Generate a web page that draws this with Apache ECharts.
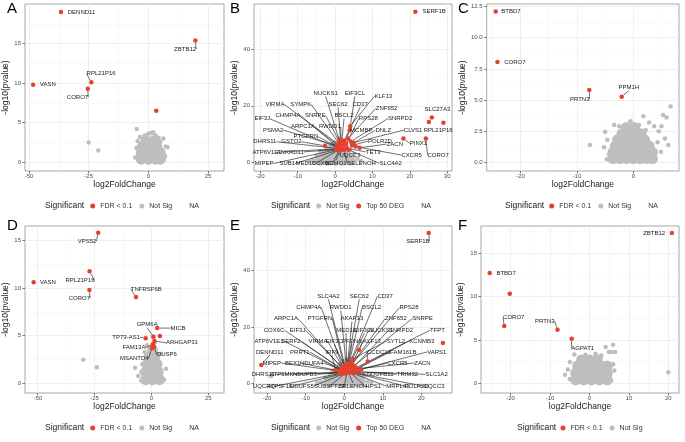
<!DOCTYPE html>
<html><head><meta charset="utf-8">
<script src="https://cdn.jsdelivr.net/npm/echarts@6.0.0/dist/echarts.min.js"></script>
<style>html,body{margin:0;padding:0;background:#fff}#c{width:685px;height:442px}</style>
</head><body><div id="c"></div>
<script>
// ---------------- DATA ----------------
// significant genes: [name, log2FoldChange, -log10(pvalue)]
const A_sig = [["DENND11",-36.6,19.0],["ZBTB12",19.7,15.4],["RPL21P16",-23.9,10.1],["CORO7",-25.4,9.3],["VASN",-48.3,9.8],["",3.3,6.5]];
const A_ns = [[-25.0,2.5],[-21.0,1.5],[-4.9,4.2],[1.3,3.7],[4.3,3.1],[6.3,3.0],[7.2,2.0],[8.0,1.9],[6.0,1.2],[-5.0,1.8],[-5.5,0.6],[-4.5,2.7],[3.0,3.4],[-1.5,3.4],[6.5,0.4],[0.0,3.6],[2.0,3.8],[-3.5,3.2],[5.0,2.6],[-4.0,0.2],[7.0,0.8]];
const A_nsDense = [[-3,0.4],[0,0.4],[3,0.4],[5,0.4],[-3,1.2],[0,1.2],[3,1.2],[5,1.2],[-2.5,2.0],[0.5,2.0],[3.5,2.0],[-1,2.7],[2,2.7]];

const B_sig = [["SERF1B",21.5,53.2],["SLC27A3",25.9,15.9],["",25.1,14.3],["RPL21P16",29.0,14.0],["CORO7",24.3,8.5],["PINX1",18.3,8.5],
 ["CLVS1",5.0,7.0],["NUCKS1",1.2,7.5],["EIF3CL",3.9,11.4],["KLF13",4.05,12.8],["VIRMA",0.8,6.0],["SYMPK",1.0,6.8],["SEC62",1.45,8.1],
 ["CD37",2.5,7.8],["ZNF652",3.5,8.5],["CHMP4A",0.6,5.5],["SNRPE",1.3,7.0],["BSCL2",1.8,7.2],["RPS28",3.0,6.5],["SNRPD2",4.2,7.4],
 ["EIF3J",0.5,5.2],["PSMA2",0.9,5.8],["ARPC1A",1.1,6.2],["RWDD1",1.6,6.6],["MCMBP",2.2,6.0],["DNLZ",4.8,6.8],["PTGFRN",0.7,5.4],
 ["DHRS11",0.5,5.0],["GSTO2",-2.7,5.9],["POLR2D",4.5,6.0],["ZACN",6.6,5.2],["ATP6V1E1",0.4,4.8],["ANKRD11",0.6,4.6],["TET3",3.2,5.0],
 ["UQCC3",2.0,4.8],["CXCR5",5.5,5.6],["MIPEP",0.3,4.5],["SUB1",0.7,4.3],["MED16",0.9,4.4],["COX6C",1.2,4.6],["BCMO1",1.5,4.7],
 ["SELENOH",2.4,4.4],["SLC4A2",3.6,4.5]];
const B_ns = [[-6,1.0],[6,1.2],[-5,2.5],[5,3.0],[2.5,6.0],[-2,5.0],[7,0.5],[-7,0.3],[-4,4],[4,4.5],[0,7],[1,8.5]];
const B_nsDense = [[-4,0.8],[-2,0.8],[0,0.8],[2,0.8],[4,0.8],[-3,2.5],[-1,2.5],[1,2.5],[3,2.5],[-1.5,4.2],[0.5,4.2],[2.5,4.2],[0,5.8],[1.5,5.8]];

const C_sig = [["BTBD7",-24.4,12.1],["CORO7",-24.1,8.06],["PRTN3",-7.8,5.81],["PPM1H",-2.06,5.27]];
const C_ns = [[6.6,4.47],[5.3,3.8],[5.9,3.6],[1.8,3.7],[3.7,2.9],[-7.7,1.39],[-5.0,2.46],[-4.7,0.24],[-3.4,3.0],[6.2,1.39],[4.9,0.85],[5.6,1.9],[4.3,1.6],[-5.2,1.2],[-4.6,1.8],[2.8,3.2],[-0.5,3.3],[1.0,3.0],[4.5,2.5],[-2.5,2.9],[3.5,0.3],[-4.3,0.6],[5.0,2.9],[2.2,2.6]];
const C_nsDense = [[-3.6,0.3],[-2.4,0.3],[-1.2,0.3],[0,0.3],[1.2,0.3],[2.4,0.3],[3.4,0.3],
 [-3.6,0.8],[-2.4,0.8],[-1.2,0.8],[0,0.8],[1.2,0.8],[2.4,0.8],[3.4,0.8],
 [-3.2,1.3],[-2.0,1.3],[-0.8,1.3],[0.4,1.3],[1.6,1.3],[2.8,1.3],
 [-2.8,1.8],[-1.6,1.8],[-0.4,1.8],[0.8,1.8],[2.0,1.8],
 [-2.0,2.3],[-0.8,2.3],[0.4,2.3],[1.4,2.3],[-1.2,2.8],[0.2,2.8]];

const D_sig = [["VPS52",-23.4,15.8],["VASN",-51.8,10.6],["RPL21P16",-27.2,11.75],["CORO7",-27.3,9.8],["TNFRSF6B",-6.8,9.06],["MICB",2.55,5.8],
 ["",3.7,4.96],["TP73-AS1",-2.55,4.75],["GPM6A",0.9,4.9],["ARHGAP31",1.3,4.45],["FAM13A",0.6,4.1],["DUSP6",1.1,3.85],["MSANTD4",0.2,3.7]];
const D_ns = [[-30.0,2.48],[-24.0,1.7],[-7.25,1.64],[-5.8,0.77],[6.4,1.53],[5.5,0.4],[-4.5,0.3],[-4.0,2.0],[4.0,3.1],[-2.0,4.0],[1.5,4.3],[0.5,4.9],[-3.0,3.3],[3.0,1.0],[-4.5,1.2]];
const D_nsDense = [[-2.5,0.4],[0.5,0.4],[3.5,0.4],[-2.5,1.2],[0.5,1.2],[3.0,1.2],[-2.0,2.0],[1.0,2.0],[2.5,2.0],[-1.0,2.8],[1.5,2.8],[0.5,3.5]];

const E_sig = [["SERF1B",21.9,53.2],["DENND11",-21.5,6.6],["",25.6,14.4],["KLF13",3.8,11.9],["SYTL2",2.2,8.7],["CCDC12",6.1,7.8],["IRF9",-2.3,4.8],
 ["SLC4A2",0.2,6.2],["SEC62",0.9,7.0],["CD37",1.5,7.4],["CHMP4A",-0.4,5.8],["RWDD1",0.5,6.6],["BSCL2",1.2,6.8],["RPS28",2.0,6.9],
 ["ARPC1A",-0.6,5.5],["PTGFRN",0.0,6.0],["AKAP13",0.8,6.4],["ZNF652",1.8,6.5],["SNRPE",2.6,6.3],["COX6C",-0.8,5.2],["EIF3J",-0.3,5.4],
 ["MED16",0.6,5.9],["EIF3CL",1.3,6.1],["NUCKS1",1.6,5.9],["SNRPD2",2.4,5.8],["TFPT",3.0,5.6],["ATP6V1E1",-0.9,4.9],["SERF2",-0.5,5.0],
 ["VIRMA",-0.2,5.2],["EIF3C",0.3,5.5],["PFDN6",0.9,5.6],["KCNMB3",3.2,5.3],["PRRT1",-0.6,4.6],["FAM161B",3.0,5.0],["VARS1",4.4,5.1],
 ["MIPEP",-1.0,4.4],["BEX1",-0.4,4.3],["NDUFA4",0.1,4.5],["CXCR5",3.0,4.7],["ZACN",1.5,5.0],["DHRS11",-1.2,4.0],["ATP5MK",-0.6,3.9],
 ["NDUFB3",-0.2,4.0],["NDUFB11",1.9,4.4],["TRIM32",2.5,4.3],["SLC1A2",3.6,4.2],["UQCRQ",-1.0,3.6],["ATP5F1E",-0.5,3.5],["NDUFS5",0.0,3.6],
 ["SUB1",0.4,3.8],["IFT27",0.7,3.9],["SELENOH",1.0,4.0],["HPS1",1.4,4.1],["MRPL41",1.8,3.9],["POLR2D",2.2,4.0],["UQCC3",2.7,3.8]];
const E_ns = [[-19.0,2.6],[-6,0.5],[6,0.8],[-5,2.2],[5,2.5],[-3,4.5],[3,5.5],[-1,7],[2,7.5],[0.5,8.5],[-7,0.2],[7,0.3]];
const E_nsDense = [[-4,0.8],[-2,0.8],[0,0.8],[2,0.8],[4,0.8],[-3,2.5],[-1,2.5],[1,2.5],[3,2.5],[-1.5,4.2],[0.5,4.2],[2.5,4.2],[-0.5,5.8],[1.2,5.8],[0.5,7.0]];

const F_sig = [["ZBTB12",20.9,17.3],["BTBD7",-25.3,12.7],["",-20.2,10.3],["CORO7",-21.6,6.6],["PRTN3",-8.1,6.17],["AGPAT1",-4.5,5.13]];
const F_ns = [[20.0,1.3],[-6.2,1.0],[-4.95,2.45],[-3.85,3.33],[4.1,4.18],[6.0,4.45],[4.9,3.6],[6.5,3.6],[5.5,3.6],[6.0,2.2],[5.5,0.3],[-5.0,0.5],[3.0,3.2],[1.5,3.4],[-1.0,3.3],[-2.5,3.0],[6.3,1.5],[-5.5,1.6]];
const F_nsDense = [[-3.5,0.4],[-1.5,0.4],[0.5,0.4],[2.5,0.4],[4.5,0.4],[-3.5,1.2],[-1.5,1.2],[0.5,1.2],[2.5,1.2],[4.5,1.2],[-3,2.0],[-1,2.0],[1,2.0],[3,2.0],[4.5,2.0],[-2,2.7],[0,2.7],[2,2.7]];

// tick labels
const A_xTicks=[-50,-25,0,25], A_yTicks=[0,5,10,15];
const B_xTicks=[-20,-10,0,10,20,30], B_yTicks=[0,20,40];
const C_xTicks=[-20,-10,0], C_yTicks=[0,2.5,5,7.5,10,12.5];
const D_xTicks=[-50,-25,0,25], D_yTicks=[0,5,10,15];
const E_xTicks=[-20,-10,0,10,20], E_yTicks=[0,20,40];
const F_xTicks=[-20,-10,0,10,20], F_yTicks=[0,5,10,15];

// ---------------- LAYOUT (label anchor positions, in data units) ----------------
const A_labels={DENND11:[-33.8,19.0,'left',0],ZBTB12:[15.4,14.3,'center',1],RPL21P16:[-19.8,11.2,'center',1],CORO7:[-29.7,8.2,'center',1],VASN:[-45.4,9.8,'left',0]};
const B_labels={SERF1B:[23.4,53.2,'left',0],SLC27A3:[27.4,18.8,'center',0],RPL21P16:[27.6,11.4,'center',0],CORO7:[27.6,2.6,'center',1],PINX1:[22.3,6.7,'center',1],
 CLVS1:[20.9,11.4,'center',1],NUCKS1:[-2.5,24.4,'center',1],EIF3CL:[5.3,24.4,'center',1],KLF13:[12.9,23.4,'center',1],VIRMA:[-16.1,20.5,'center',1],
 SYMPK:[-9.2,20.5,'center',1],SEC62:[0.8,20.5,'center',1],CD37:[6.7,20.5,'center',1],ZNF652:[13.8,19.1,'center',1],CHMP4A:[-12.6,16.6,'center',1],
 SNRPE:[-5.3,16.6,'center',1],BSCL2:[2.4,16.6,'center',1],RPS28:[8.9,15.5,'center',1],SNRPD2:[17.4,15.5,'center',1],EIF3J:[-19.5,15.4,'center',1],
 PSMA2:[-16.6,11.4,'center',1],ARPC1A:[-8.6,12.6,'center',1],RWDD1:[-1.4,12.6,'center',1],MCMBP:[7.0,11.4,'center',1],DNLZ:[12.9,11.4,'center',1],
 PTGFRN:[-7.8,9.1,'center',1],DHRS11:[-18.8,7.3,'center',1],GSTO2:[-11.7,7.3,'center',1],POLR2D:[12.0,7.5,'center',1],ZACN:[16.0,6.5,'center',1],
 ATP6V1E1:[-18.2,3.75,'center',1],ANKRD11:[-12.0,3.75,'center',1],TET3:[10.2,3.75,'center',1],UQCC3:[4.0,2.6,'center',1],CXCR5:[20.5,2.6,'center',1],
 MIPEP:[-19.0,-0.35,'center',1],SUB1:[-12.8,-0.35,'center',1],MED16:[-7.9,-0.35,'center',1],COX6C:[-3.5,-0.35,'center',1],BCMO1:[0.2,-0.35,'center',1],
 SELENOH:[7.1,-0.35,'center',1],SLC4A2:[14.9,-0.35,'center',1]};
const C_labels={BTBD7:[-23.4,12.1,'left',0],CORO7:[-22.9,8.06,'left',0],PRTN3:[-9.5,5.08,'center',1],PPM1H:[-0.8,6.0,'center',1]};
const D_labels={VPS52:[-28.3,14.9,'center',1],VASN:[-49.0,10.6,'left',0],RPL21P16:[-31.4,10.8,'center',1],CORO7:[-31.7,8.9,'center',1],TNFRSF6B:[-2.3,9.9,'center',1],
 MICB:[8.4,5.8,'left',1],GPM6A:[-1.9,6.15,'center',1],'TP73-AS1':[-11.1,4.86,'center',1],ARHGAP31:[13.4,4.26,'center',1],FAM13A:[-7.7,3.74,'center',1],
 DUSP6:[6.8,3.0,'center',1],MSANTD4:[-7.55,2.65,'center',1]};
const E_labels={SERF1B:[19.1,50.3,'center',1],SLC4A2:[-4.1,30.9,'center',1],SEC62:[3.9,30.9,'center',1],CD37:[10.6,30.9,'center',1],CHMP4A:[-9.2,26.9,'center',1],
 RWDD1:[-0.9,26.9,'center',1],BSCL2:[7.1,26.9,'center',1],RPS28:[16.8,26.9,'center',1],ARPC1A:[-15.1,23.0,'center',1],PTGFRN:[-6.3,23.0,'center',1],
 AKAP13:[2.0,23.0,'center',1],ZNF652:[13.4,23.0,'center',1],SNRPE:[20.3,23.0,'center',1],COX6C:[-18.2,18.9,'center',1],EIF3J:[-12.1,18.9,'center',1],
 MED16:[0.5,18.9,'center',1],EIF3CL:[5.2,18.9,'center',1],NUCKS1:[9.5,18.9,'center',1],SNRPD2:[14.7,18.9,'center',1],TFPT:[24.2,18.9,'center',1],
 ATP6V1E1:[-19.5,15.1,'center',1],SERF2:[-13.8,15.1,'center',1],VIRMA:[-6.8,15.1,'center',1],EIF3C:[-2.6,15.1,'center',1],PFDN6:[2.0,15.1,'center',1],
 KLF13:[7.2,15.1,'center',1],SYTL2:[13.4,15.1,'center',1],KCNMB3:[20.1,15.1,'center',1],DENND11:[-19.3,11.2,'center',1],PRRT1:[-11.5,11.2,'center',1],
 IRF9:[-3.2,11.2,'center',1],CCDC12:[9.0,11.2,'center',1],FAM161B:[15.3,11.2,'center',1],VARS1:[24.0,11.2,'center',1],MIPEP:[-18.8,7.3,'center',1],
 BEX1:[-13.4,7.3,'center',1],NDUFA4:[-8.4,7.3,'center',1],CXCR5:[13.8,7.3,'center',1],ZACN:[20.3,7.3,'center',1],DHRS11:[-21.0,3.3,'center',1],
 ATP5MK:[-16.2,3.3,'center',1],NDUFB3:[-10.2,3.3,'center',1],NDUFB11:[9.3,3.3,'center',1],TRIM32:[16.4,3.3,'center',1],SLC1A2:[24.0,3.3,'center',1],
 UQCRQ:[-20.8,-0.85,'center',1],ATP5F1E:[-16.6,-0.85,'center',1],NDUFS5:[-11.0,-0.85,'center',1],SUB1:[-5.8,-0.85,'center',1],IFT27:[-2.0,-0.85,'center',1],
 SELENOH:[2.3,-0.85,'center',1],HPS1:[7.5,-0.85,'center',1],MRPL41:[13.9,-0.85,'center',1],POLR2D:[18.8,-0.85,'center',1],UQCC3:[23.3,-0.85,'center',1]};
const F_labels={ZBTB12:[19.2,17.3,'right',0],BTBD7:[-23.6,12.7,'left',0],CORO7:[-19.2,7.55,'center',1],PRTN3:[-11.3,7.17,'center',1],AGPAT1:[-1.7,4.06,'center',1]};

// ---------------- BUILD ----------------
const RED='#e4402f', GREY='#bebebe', FONT='"Liberation Sans", Arial, Helvetica, sans-serif';
const chart = echarts.init(document.getElementById('c'), null, {renderer:'canvas'});

const panels = [
 {L:'A', lp:[7,1],   g:[25,4,199,167],    xr:[-51.7,31.7], yr:[-1.1,20.0], xt:A_xTicks, yt:A_yTicks, sig:A_sig, ns:A_ns, nd:A_nsDense, lab:A_labels, sn:'FDR < 0.1', leg:['FDR < 0.1','Not Sig','NA'], tx:45,  lx:90.2,  ly:207, yg:11},
 {L:'B', lp:[230,1], g:[254,4,198,167],   xr:[-21.7,31.3], yr:[-3.0,55.9], xt:B_xTicks, yt:B_yTicks, sig:B_sig, ns:B_ns, nd:B_nsDense, lab:B_labels, sn:'Top 50 DEG', leg:['Not Sig','Top 50 DEG','NA'], tx:271, lx:316.2, ly:207, yg:11},
 {L:'C', lp:[458,1], g:[486.7,4,192.3,167], xr:[-26.0,8.1], yr:[-0.7,12.71], xt:C_xTicks, yt:C_yTicks, sig:C_sig, ns:C_ns, nd:C_nsDense, lab:C_labels, sn:'FDR < 0.1', leg:['FDR < 0.1','Not Sig','NA'], tx:505, lx:549.2, ly:207, yg:18, dec:1},
 {L:'D', lp:[7,218], g:[25,226,199,167],  xr:[-55.6,31.9], yr:[-1.0,16.5], xt:D_xTicks, yt:D_yTicks, sig:D_sig, ns:D_ns, nd:D_nsDense, lab:D_labels, sn:'FDR < 0.1', leg:['FDR < 0.1','Not Sig','NA'], tx:45,  lx:90.2,  ly:429, yg:11},
 {L:'E', lp:[230,218], g:[254,226,198,167], xr:[-23.4,27.95], yr:[-3.3,55.7], xt:E_xTicks, yt:E_yTicks, sig:E_sig, ns:E_ns, nd:E_nsDense, lab:E_labels, sn:'Top 50 DEG', leg:['Not Sig','Top 50 DEG','NA'], tx:271, lx:316.2, ly:429, yg:11},
 {L:'F', lp:[458,218], g:[481,226,198,167], xr:[-27.5,22.7], yr:[-1.1,18.1], xt:F_xTicks, yt:F_yTicks, sig:F_sig, ns:F_ns, nd:F_nsDense, lab:F_labels, sn:'FDR < 0.1', leg:['FDR < 0.1','Not Sig'], tx:517, lx:560.5, ly:429, yg:16}
];

function minors(t, lo, hi){
  const s=t[1]-t[0]; const e=[t[0]-s,...t,t[t.length-1]+s]; const o=[];
  for(let i=0;i<e.length-1;i++){const m=(e[i]+e[i+1])/2; if(m>lo&&m<hi) o.push(m);} return o;
}

const dot = c => ({color:c, opacity:1, borderWidth:0, borderColor:'rgba(0,0,0,0)', shadowBlur:0});
const grid=[], xAxis=[], yAxis=[], series=[], legend=[], graphic=[];
panels.forEach((p,i)=>{
  grid.push({left:p.g[0], top:p.g[1], width:p.g[2], height:p.g[3], show:true, borderColor:'#8f8f8f', borderWidth:0.8, backgroundColor:'#fff'});
  const fmt = p.dec ? (v=>Number(v).toFixed(1)) : (v=>String(v));
  const xi=xAxis.length, yi=yAxis.length;
  xAxis.push({type:'value', gridIndex:i, min:p.xr[0], max:p.xr[1], position:'bottom',
    name:'log2FoldChange', nameLocation:'middle', nameGap:8, nameTextStyle:{fontFamily:FONT, fontSize:8.5, color:'#1a1a1a', verticalAlign:'top'},
    axisLine:{show:false, onZero:false}, axisTick:{show:true, length:2.5, customValues:p.xt, lineStyle:{color:'#555', width:0.8}},
    axisLabel:{customValues:p.xt, fontFamily:FONT, fontSize:6, color:'#4d4d4d', margin:2.5},
    splitLine:{show:true, lineStyle:{color:'#ebebeb', width:0.8}}});
  xAxis.push({type:'value', gridIndex:i, min:p.xr[0], max:p.xr[1], position:'top',
    axisLine:{show:false, onZero:false}, axisTick:{show:false, customValues:minors(p.xt,p.xr[0],p.xr[1])},
    axisLabel:{show:false, customValues:minors(p.xt,p.xr[0],p.xr[1])}, splitLine:{show:true, lineStyle:{color:'#f3f3f3', width:0.5}}});
  yAxis.push({type:'value', gridIndex:i, min:p.yr[0], max:p.yr[1], position:'left',
    name:'-log10(pvalue)', nameLocation:'middle', nameGap:p.yg, nameRotate:90, nameTextStyle:{fontFamily:FONT, fontSize:8.5, color:'#1a1a1a'},
    axisLine:{show:false, onZero:false}, axisTick:{show:true, length:2.5, customValues:p.yt, lineStyle:{color:'#555', width:0.8}},
    axisLabel:{customValues:p.yt, formatter:fmt, fontFamily:FONT, fontSize:6, color:'#4d4d4d', margin:4},
    splitLine:{show:true, lineStyle:{color:'#ebebeb', width:0.8}}});
  yAxis.push({type:'value', gridIndex:i, min:p.yr[0], max:p.yr[1], position:'right',
    axisLine:{show:false, onZero:false}, axisTick:{show:false, customValues:minors(p.yt,p.yr[0],p.yr[1])},
    axisLabel:{show:false, customValues:minors(p.yt,p.yr[0],p.yr[1])}, splitLine:{show:true, lineStyle:{color:'#f3f3f3', width:0.5}}});

  series.push({type:'scatter', name:'Not Sig', xAxisIndex:xi, yAxisIndex:yi, data:p.nd, symbol:'circle', symbolSize:11, itemStyle:dot(GREY), silent:true, z:2});
  series.push({type:'scatter', name:'Not Sig', xAxisIndex:xi, yAxisIndex:yi, data:p.ns, symbol:'circle', symbolSize:4.5, itemStyle:dot(GREY), silent:true, z:2});
  const si = series.length;
  const lab = p.lab, sig = p.sig;
  series.push({type:'scatter', name:p.sn, xAxisIndex:xi, yAxisIndex:yi, symbol:'circle', symbolSize:4.5, itemStyle:dot(RED), z:3, silent:true,
    data: sig.map(d=>{const l=lab[d[0]]; return {name:d[0], value:[d[1],d[2]], label:{show:!!l}, labelLine:{show:!!(l&&l[3])}};}),
    label:{show:false, formatter:'{b}', fontFamily:FONT, fontSize:6, color:'#1a1a1a'},
    labelLine:{show:false, length2:0, lineStyle:{color:'#111', width:0.6}},
    labelLayout:function(params){
      const l = lab[sig[params.dataIndex][0]];
      if(!l) return {};
      const px = chart.convertToPixel({seriesIndex:si}, [l[0], l[1]]);
      return {x:px[0], y:px[1], align:l[2], verticalAlign:'middle'};
    }});

  legend.push({left:p.lx, top:p.ly-4.5, padding:0, itemWidth:5, itemHeight:5, itemGap:7, icon:'circle', selectedMode:false,
    data:p.leg, textStyle:{fontFamily:FONT, fontSize:7, color:'#333'}});
  graphic.push({type:'text', left:p.tx, top:p.ly-5.5, style:{text:'Significant', font:'8.5px "Liberation Sans", Arial, sans-serif', fill:'#1a1a1a'}});
  graphic.push({type:'text', left:p.lp[0], top:p.lp[1], style:{text:p.L, font:'15px "Liberation Sans", Arial, sans-serif', fill:'#000'}});
});
series.push({type:'scatter', name:'NA', xAxisIndex:0, yAxisIndex:0, data:[], itemStyle:{color:'rgba(0,0,0,0)'}});

chart.setOption({animation:false, textStyle:{fontFamily:FONT}, grid, xAxis, yAxis, series, legend, graphic});
</script>
</body></html>
